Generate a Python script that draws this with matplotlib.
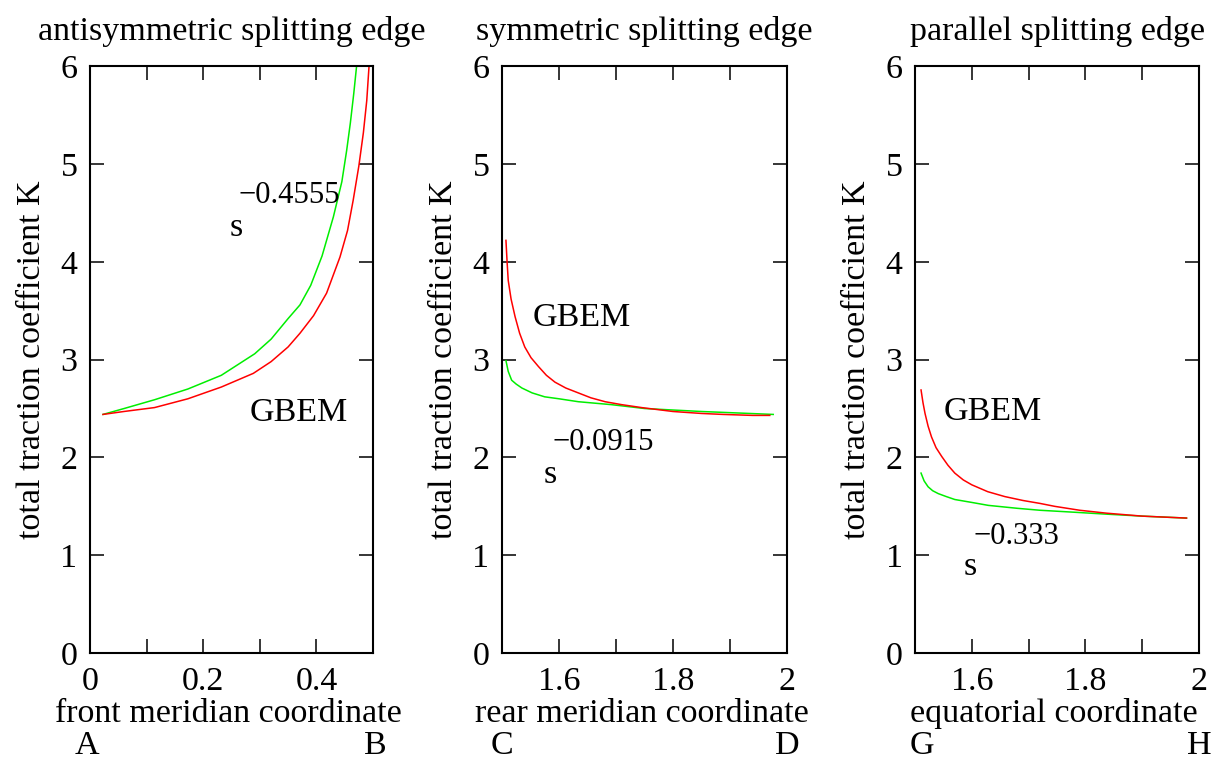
import numpy as np
import matplotlib
matplotlib.use("Agg")
import matplotlib.pyplot as plt
from matplotlib.ticker import MultipleLocator, FixedLocator

plt.rcParams['font.family'] = ['Liberation Serif', 'DejaVu Serif']
FS = 24.5

# --- data ---
# panel 1: antisymmetric splitting edge (front meridian, A..B)
p1_green_x = [0.023, 0.06, 0.114, 0.173, 0.232, 0.291, 0.32, 0.350, 0.371, 0.39, 0.41, 0.430,
              0.445, 0.4535, 0.46, 0.466, 0.471]
p1_green_y = [2.44, 2.50, 2.59, 2.70, 2.84, 3.06, 3.21, 3.42, 3.56, 3.76, 4.06, 4.46,
              4.82, 5.14, 5.42, 5.72, 6.0]
p1_red_x = [0.023, 0.06, 0.114, 0.173, 0.232, 0.2886, 0.32, 0.350, 0.371, 0.395, 0.418, 0.4417,
            0.455, 0.465, 0.475, 0.483, 0.489, 0.493]
p1_red_y = [2.44, 2.47, 2.51, 2.60, 2.72, 2.86, 2.98, 3.13, 3.27, 3.45, 3.68, 4.05,
            4.32, 4.63, 4.98, 5.32, 5.65, 6.0]

# panel 2: symmetric splitting edge (rear meridian, C..D)
p2_green_x = [1.507, 1.511, 1.517, 1.525, 1.535, 1.553, 1.575, 1.60, 1.634, 1.692, 1.751, 1.85, 1.976]
p2_green_y = [2.99, 2.88, 2.79, 2.75, 2.71, 2.66, 2.62, 2.60, 2.57, 2.54, 2.50, 2.47, 2.44]
p2_red_x = [1.507, 1.509, 1.511, 1.516, 1.523, 1.531, 1.540, 1.551, 1.564, 1.578, 1.593, 1.612,
            1.634, 1.656, 1.681, 1.71, 1.745, 1.80, 1.85, 1.888, 1.94, 1.970]
p2_red_y = [4.22, 4.00, 3.81, 3.62, 3.44, 3.27, 3.13, 3.02, 2.93, 2.84, 2.77, 2.71,
            2.66, 2.61, 2.57, 2.54, 2.51, 2.47, 2.45, 2.44, 2.43, 2.43]

# panel 3: parallel splitting edge (equatorial, G..H)
p3_green_x = [1.5106, 1.516, 1.523, 1.531, 1.541, 1.555, 1.570, 1.60, 1.629, 1.68, 1.720,
              1.78, 1.8375, 1.90, 1.978]
p3_green_y = [1.84, 1.76, 1.70, 1.66, 1.63, 1.60, 1.57, 1.54, 1.51, 1.48, 1.46,
              1.44, 1.42, 1.40, 1.38]
p3_red_x = [1.5106, 1.514, 1.5176, 1.523, 1.529, 1.537, 1.547, 1.558, 1.570, 1.585, 1.600,
            1.628, 1.658, 1.690, 1.720, 1.746, 1.79, 1.8375, 1.90, 1.978]
p3_red_y = [2.69, 2.56, 2.45, 2.32, 2.21, 2.10, 2.01, 1.92, 1.84, 1.77, 1.72,
            1.65, 1.60, 1.56, 1.53, 1.50, 1.46, 1.43, 1.40, 1.38]

titles = ["antisymmetric splitting edge", "symmetric splitting edge", "parallel splitting edge"]
xlabels = ["front meridian coordinate", "rear meridian coordinate", "equatorial coordinate"]
end_letters = [("A", "B"), ("C", "D"), ("G", "H")]
exponents = ["\u22120.4555", "\u22120.0915", "\u22120.333"]

fig = plt.figure(figsize=(12.11, 7.62), dpi=100)
rects = [[0.0743, 0.143, 0.2337, 0.770],
         [0.4145, 0.143, 0.2353, 0.770],
         [0.7556, 0.143, 0.2345, 0.770]]
axes = [fig.add_axes(r) for r in rects]

series = [(p1_red_x, p1_red_y, p1_green_x, p1_green_y),
          (p2_red_x, p2_red_y, p2_green_x, p2_green_y),
          (p3_red_x, p3_red_y, p3_green_x, p3_green_y)]

# annotation positions in data coords: (GBEM), (s), (exponent)
annot = [((0.369, 2.46), (0.258, 4.35), (0.353, 4.68)),
         ((1.640, 3.43), (1.584, 1.82), (1.677, 2.15)),
         ((1.636, 2.47), (1.597, 0.88), (1.678, 1.19))]
letter_x = [(-0.012, 1.007), (0.0, 1.0), (0.024, 1.0)]

for i, ax in enumerate(axes):
    rx, ry, gx, gy = series[i]
    ax.plot(gx, gy, color='#00ee00', lw=1.1)
    ax.plot(rx, ry, color='#ff0000', lw=1.1)

    if i == 0:
        ax.set_xlim(0, 0.5)
        ax.xaxis.set_major_locator(FixedLocator([0, 0.2, 0.4]))
        ax.xaxis.set_minor_locator(FixedLocator([0.1, 0.3]))
        ax.set_xticklabels(["0", "0.2", "0.4"])
    else:
        ax.set_xlim(1.5, 2.0)
        ax.xaxis.set_major_locator(FixedLocator([1.6, 1.8, 2.0]))
        ax.xaxis.set_minor_locator(FixedLocator([1.7, 1.9]))
        ax.set_xticklabels(["1.6", "1.8", "2"])
    ax.set_ylim(0, 6)
    ax.yaxis.set_major_locator(MultipleLocator(1))

    ax.tick_params(which='both', direction='in', top=True, right=True,
                   length=10, width=1.1, labelsize=FS)
    ax.tick_params(axis='x', pad=9.5)
    ax.tick_params(axis='y', pad=9)
    for sp in ax.spines.values():
        sp.set_linewidth(1.5)

    ax.set_title(titles[i], fontsize=FS, pad=19)
    ax.text(-0.205, 0.5, "total traction coefficient K", rotation=90,
            transform=ax.transAxes, ha='center', va='center', fontsize=FS)
    ax.text(0.49, -0.1175, xlabels[i], transform=ax.transAxes,
            ha='center', va='baseline', fontsize=FS)
    a, b = end_letters[i]
    ax.text(letter_x[i][0], -0.1715, a, transform=ax.transAxes,
            ha='center', va='baseline', fontsize=FS, clip_on=False)
    ax.text(letter_x[i][1], -0.1715, b, transform=ax.transAxes,
            ha='center', va='baseline', fontsize=FS, clip_on=False)

    (gbx, gby), (sx, sy), (ex, ey) = annot[i]
    ax.text(gbx, gby, "GBEM", ha='center', va='center', fontsize=FS)
    ax.text(sx, sy, "s", ha='center', va='center', fontsize=FS)
    ax.text(ex, ey, exponents[i], ha='center', va='center', fontsize=FS * 0.9)

fig.savefig("out.png", dpi=100)
